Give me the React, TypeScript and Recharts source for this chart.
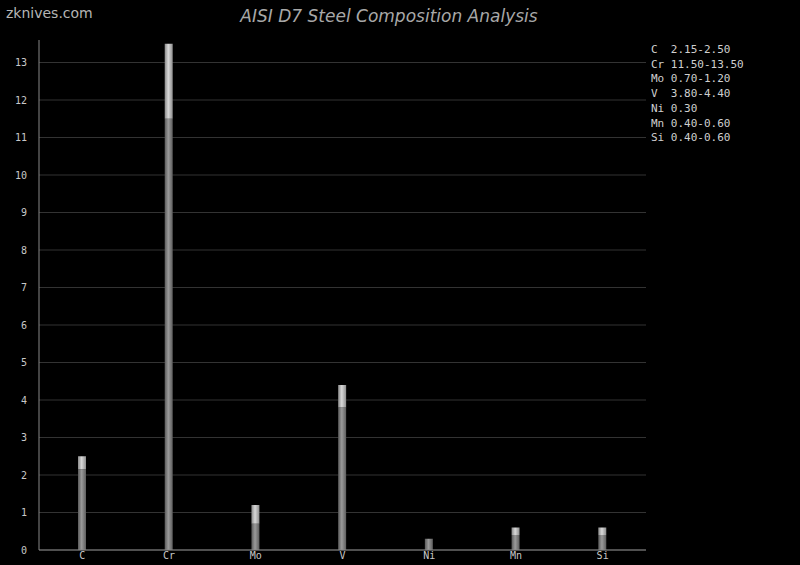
import { BarChart, Bar, XAxis, YAxis, CartesianGrid } from 'recharts';

// element symbols and composition range (weight %)
const elements = ['C', 'Cr', 'Mo', 'V', 'Ni', 'Mn', 'Si'];
const minValues = [2.15, 11.5, 0.7, 3.8, 0.3, 0.4, 0.4];
const maxValues = [2.5, 13.5, 1.2, 4.4, 0.3, 0.6, 0.6];
const legendLabels = ['C  2.15-2.50', 'Cr 11.50-13.50', 'Mo 0.70-1.20', 'V  3.80-4.40', 'Ni 0.30', 'Mn 0.40-0.60', 'Si 0.40-0.60'];
const yTicks = [0, 1, 2, 3, 4, 5, 6, 7, 8, 9, 10, 11, 12, 13];

const data = elements.map((el, i) => ({
    name: el,
    min: minValues[i],
    range: +(maxValues[i] - minValues[i]).toFixed(2),
}));

const mono = '"DejaVu Sans Mono", monospace';

const TOP = 40;
const BOTTOM = 550;
const YMAX = 13.6;

// grid only at integer ticks, no line on the top edge
const gridLines = ({ yAxis }: any) => {
    if (yAxis && typeof yAxis.scale === 'function') return yTicks.map((t) => yAxis.scale(t));
    return yTicks.map((t) => BOTTOM - (t / YMAX) * (BOTTOM - TOP));
};

export default function App() {
    return (
        <div style={{ position: 'fixed', top: 0, left: 0, width: 800, height: 565, background: '#000', overflow: 'hidden' }}>
            <div style={{ position: 'absolute', left: 6, top: 5, fontFamily: '"DejaVu Sans", sans-serif', fontSize: 14, color: '#b5b5b5' }}>
                zknives.com
            </div>
            <div style={{ position: 'absolute', left: 0, top: 6, width: 778, textAlign: 'center', fontFamily: '"DejaVu Sans", sans-serif', fontStyle: 'italic', fontSize: 17, color: '#a8a8a8' }}>
                AISI D7 Steel Composition Analysis
            </div>
            <BarChart width={800} height={565} data={data} margin={{ top: TOP, right: 154, left: 0, bottom: 0 }} barCategoryGap={0}>
                <defs>
                    <linearGradient id="gradMin" x1="0" y1="0" x2="1" y2="0">
                        <stop offset="0%" stopColor="#5a5a5a" />
                        <stop offset="45%" stopColor="#9a9a9a" />
                        <stop offset="100%" stopColor="#5e5e5e" />
                    </linearGradient>
                    <linearGradient id="gradRange" x1="0" y1="0" x2="1" y2="0">
                        <stop offset="0%" stopColor="#8a8a8a" />
                        <stop offset="45%" stopColor="#d8d8d8" />
                        <stop offset="100%" stopColor="#8e8e8e" />
                    </linearGradient>
                </defs>
                <CartesianGrid vertical={false} stroke="#333" horizontalCoordinatesGenerator={gridLines} />
                <XAxis
                    dataKey="name"
                    height={15}
                    tickLine={false}
                    tickSize={0}
                    axisLine={{ stroke: '#888' }}
                    tick={{ fontSize: 10, fill: '#c8c8c8', fontFamily: mono }}
                    tickMargin={2}
                    interval={0}
                />
                <YAxis
                    width={39}
                    domain={[0, YMAX]}
                    ticks={yTicks}
                    tickLine={false}
                    axisLine={{ stroke: '#888' }}
                    tick={{ fontSize: 10, fill: '#c8c8c8', fontFamily: mono }}
                    tickMargin={6}
                    allowDataOverflow
                />
                <Bar dataKey="min" stackId="a" fill="url(#gradMin)" barSize={8} isAnimationActive={false} />
                <Bar dataKey="range" stackId="a" fill="url(#gradRange)" barSize={8} isAnimationActive={false} />
            </BarChart>
            <div style={{ position: 'absolute', left: 651, top: 43, fontFamily: mono, fontSize: 11, lineHeight: '14.7px', color: '#cfcfcf', whiteSpace: 'pre' }}>
                {legendLabels.map((l) => (
                    <div key={l}>{l}</div>
                ))}
            </div>
        </div>
    );
}
